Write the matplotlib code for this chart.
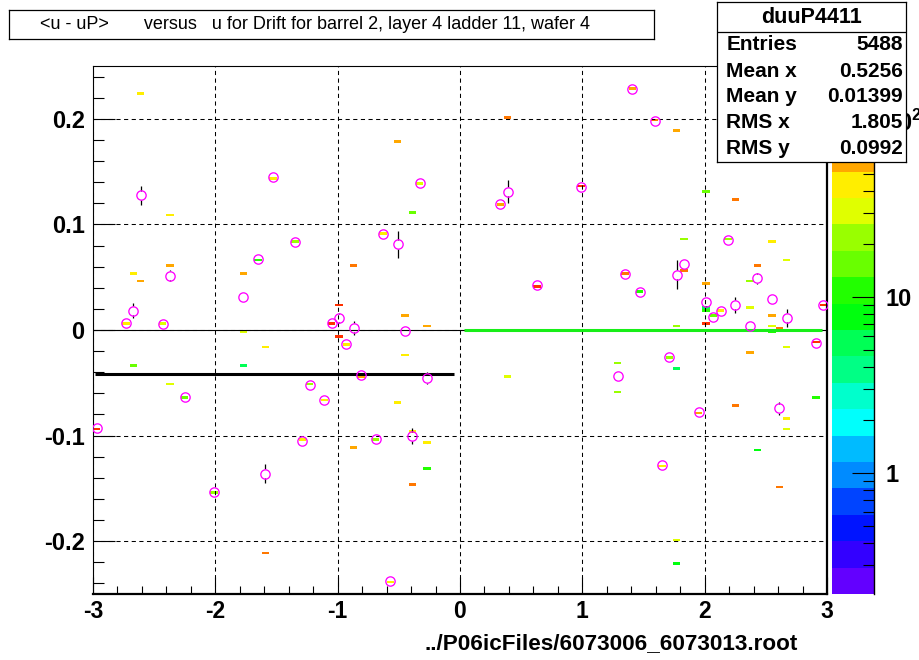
import colorsys
import numpy as np
import matplotlib
matplotlib.use("Agg")
import matplotlib.pyplot as plt
from matplotlib.colors import ListedColormap, LogNorm
from matplotlib.cm import ScalarMappable
from matplotlib.ticker import FixedLocator, MultipleLocator, LogLocator, NullFormatter, FuncFormatter

plt.rcParams['font.family'] = ['Liberation Sans', 'DejaVu Sans']
plt.rcParams['axes.unicode_minus'] = False
plt.rcParams['mathtext.fontset'] = 'custom'
plt.rcParams['mathtext.rm'] = 'Liberation Sans:bold'
plt.rcParams['mathtext.bf'] = 'Liberation Sans:bold'
plt.rcParams['lines.scale_dashes'] = False

# ---------------- data ----------------
title_text = "<u - uP>       versus   u for Drift for barrel 2, layer 4 ladder 11, wafer 4"
xlabel_text = "../P06icFiles/6073006_6073013.root"
stats_name = "duuP4411"
stats_labels = ["Entries", "Mean x", "Mean y", "RMS x", "RMS y"]
stats_values = ["5488", "0.5256", "0.01399", "1.805", "0.0992"]

x_ticks = [-3, -2, -1, 0, 1, 2, 3]
x_ticklabels = ["-3", "-2", "-1", "0", "1", "2", "3"]
y_ticks = [-0.2, -0.1, 0.0, 0.1, 0.2]
y_ticklabels = ["-0.2", "-0.1", "0", "0.1", "0.2"]
z_ticks = [1, 10, 100]
z_ticklabels = ["1", "10", "10$^{2}$"]
z_range = [0.205, 205.0]

# 2D histogram cells (bin centre x, bin centre y, content)
hist_x = [-2.97, -2.73, -2.67, -2.67, -2.61, -2.61, -2.43, -2.37, -2.37, -2.37,
          -2.25, -2.01, -1.77, -1.77, -1.77, -1.65, -1.59, -1.59, -1.53, -1.35,
          -1.29, -1.23, -1.11, -1.05, -0.99, -0.99, -0.93, -0.87, -0.87, -0.81,
          -0.69, -0.63, -0.57, -0.51, -0.51, -0.45, -0.45, -0.39, -0.39, -0.39,
          -0.33, -0.27, -0.27, -0.27,
          0.33, 0.39, 0.39, 0.63, 0.99, 1.29, 1.29, 1.35, 1.41, 1.47,
          1.59, 1.65, 1.71, 1.77, 1.77, 1.77, 1.77, 1.77, 1.83, 1.83,
          1.95, 2.01, 2.01, 2.01, 2.01, 2.01, 2.07, 2.13, 2.19, 2.25,
          2.25, 2.37, 2.37, 2.37, 2.43, 2.43, 2.55, 2.55, 2.55, 2.55,
          2.61, 2.61, 2.67, 2.67, 2.67, 2.67, 2.91, 2.91, 2.97]
hist_y = [-0.0930, 0.0067, 0.0527, -0.0349, 0.2229, 0.0464, 0.0060, 0.1086, 0.0612, -0.0502,
          -0.0638, -0.1533, 0.0543, -0.0016, -0.0349, 0.0670, -0.0171, -0.2102, 0.1448, 0.0829,
          -0.1048, -0.0520, -0.0667, 0.0067, 0.0241, -0.0063, -0.0133, 0.0603, -0.1102, -0.0425,
          -0.1029, 0.0908, -0.2378, 0.1780, -0.0692, 0.0136, -0.0226, 0.1108, -0.0959, -0.1454,
          0.1390, 0.0041, -0.1054, -0.1311,
          0.1194, 0.2022, -0.0425, 0.0422, 0.1352, -0.0321, -0.0578, 0.0527, 0.2286, 0.0362,
          0.1980, -0.1276, -0.0257, 0.1879, 0.0050, -0.0368, -0.1978, -0.2216, 0.0870, 0.0555,
          -0.0780, 0.1308, 0.0432, 0.0219, 0.0184, 0.0060, 0.0127, 0.0184, 0.0857, 0.1241,
          -0.0721, 0.0450, 0.0222, -0.0216, 0.0603, -0.1140, 0.0832, 0.0146, 0.0041, -0.0016,
          0.0022, -0.1492, 0.0654, -0.0171, -0.0832, -0.0949, -0.0121, -0.0629, 0.0238]
hist_counts = [120, 43, 43, 15, 43, 60, 30, 43, 60, 30,
               15, 21, 60, 30, 5.4, 11, 43, 85, 43, 21,
               43, 21, 43, 120, 120, 120, 43, 85, 60, 60,
               21, 43, 43, 60, 43, 60, 43, 15, 43, 85,
               30, 60, 43, 11,
               60, 85, 30, 120, 120, 21, 21, 85, 60, 11,
               85, 43, 21, 60, 21, 5.4, 30, 7.7, 21, 85,
               60, 15, 60, 5.4, 11, 120, 15, 43, 21, 85,
               85, 21, 30, 60, 85, 7.7, 43, 60, 30, 11,
               85, 85, 30, 30, 43, 30, 120, 11, 120]

# profile points
prof_x = [-2.97, -2.73, -2.67, -2.61, -2.43, -2.37, -2.25, -2.01, -1.77, -1.65,
          -1.59, -1.53, -1.35, -1.29, -1.23, -1.11, -1.05, -0.99, -0.93, -0.87,
          -0.81, -0.69, -0.63, -0.57, -0.51, -0.45, -0.39, -0.33, -0.27,
          0.33, 0.39, 0.63, 0.99, 1.29, 1.35, 1.41, 1.47, 1.59, 1.65,
          1.71, 1.77, 1.83, 1.95, 2.01, 2.07, 2.13, 2.19, 2.25, 2.37,
          2.43, 2.55, 2.61, 2.67, 2.91, 2.97]
prof_y = [-0.0930, 0.0067, 0.0184, 0.1276, 0.0060, 0.0514, -0.0638, -0.1533, 0.0314, 0.0670,
          -0.1360, 0.1448, 0.0829, -0.1048, -0.0520, -0.0667, 0.0067, 0.0114, -0.0133, 0.0022,
          -0.0425, -0.1029, 0.0908, -0.2378, 0.0810, -0.0013, -0.1006, 0.1390, -0.0457,
          0.1194, 0.1308, 0.0422, 0.1352, -0.0435, 0.0527, 0.2286, 0.0362, 0.1980, -0.1276,
          -0.0257, 0.0524, 0.0622, -0.0780, 0.0267, 0.0127, 0.0184, 0.0857, 0.0241, 0.0038,
          0.0489, 0.0298, -0.0743, 0.0117, -0.0121, 0.0238]
prof_err = [0.001, 0.001, 0.007, 0.0088, 0.001, 0.0054, 0.001, 0.001, 0.001, 0.001,
            0.0087, 0.001, 0.001, 0.001, 0.001, 0.001, 0.001, 0.005, 0.001, 0.0065,
            0.001, 0.001, 0.001, 0.001, 0.0127, 0.001, 0.0076, 0.001, 0.0058,
            0.001, 0.011, 0.001, 0.001, 0.001, 0.001, 0.001, 0.001, 0.001, 0.001,
            0.001, 0.0137, 0.001, 0.001, 0.0050, 0.001, 0.001, 0.001, 0.0076, 0.001,
            0.0055, 0.001, 0.0065, 0.0086, 0.001, 0.001]

# fitted straight lines: [x start, x end, level]
fit_left = [-2.98, -0.045, -0.0412]
fit_right = [0.03, 2.96, 0.0]

# ---------------- figure ----------------
W, H = 920, 660
fig = plt.figure(figsize=(W / 100, H / 100), dpi=100)
fig.patch.set_facecolor('white')

def fx(px):
    return px / W

def fy(py):
    return 1 - py / H

# ROOT "pretty" palette, 20 contour levels
pal = []
for k in range(20):
    ci = int((k + 0.99) * 50 / 20)
    hue = 280 - (ci + 1) * 5.6
    pal.append(colorsys.hls_to_rgb(hue / 360.0, 0.5, 1.0))
cmap = ListedColormap(pal)
norm = LogNorm(vmin=z_range[0], vmax=z_range[1])

ax = fig.add_axes([fx(93), fy(594), fx(827) - fx(93), fy(66) - fy(594)])
x_edges = np.linspace(-3, 3, 101)
y_edges = np.linspace(-0.25, 0.25, 201)
Hh, _, _ = np.histogram2d(hist_x, hist_y, bins=[x_edges, y_edges], weights=hist_counts)
Hm = np.ma.masked_where(Hh <= 0, Hh)
ax.pcolormesh(x_edges, y_edges, Hm.T, cmap=cmap, norm=norm, zorder=1)

ax.set_xlim(-3, 3)
ax.set_ylim(-0.25, 0.25)
ax.set_xticks(x_ticks)
ax.set_xticklabels(x_ticklabels)
ax.set_yticks(y_ticks)
ax.set_yticklabels(y_ticklabels)
ax.xaxis.set_minor_locator(MultipleLocator(0.2))
ax.yaxis.set_minor_locator(MultipleLocator(0.02))
ax.tick_params(which='both', direction='in', top=False, right=False, width=0.8, color='black')
ax.tick_params(axis='x', which='major', length=12, pad=4, labelsize=16.5)
ax.tick_params(axis='x', which='minor', length=6)
ax.tick_params(axis='y', which='major', length=15.5, pad=6, labelsize=17)
ax.tick_params(axis='y', which='minor', length=8)
for lab in ax.get_xticklabels() + ax.get_yticklabels():
    lab.set_fontweight('bold')
ax.grid(True, which='major', color='black', linestyle=(0, (3, 2.5)), linewidth=0.75, zorder=0.5)
ax.set_axisbelow(False)
for s in ['top', 'left']:
    ax.spines[s].set_linewidth(0.8)
for s in ['bottom', 'right']:
    ax.spines[s].set_linewidth(1.6)

# zero line and fits
ax.axhline(0, color='black', linewidth=0.8, zorder=2)
ax.plot(fit_left[:2], [fit_left[2]] * 2, color='black', linewidth=2.2, solid_capstyle='butt', zorder=3)
ax.plot(fit_right[:2], [fit_right[2]] * 2, color='#18ee18', linewidth=2.2, solid_capstyle='butt', zorder=3)

# profile: error bars outside marker, then open circles
px_ = np.array(prof_x)
py_ = np.array(prof_y)
pe_ = np.array(prof_err)
gap = 0.0042
big = pe_ > gap
ax.vlines(px_[big], py_[big] + gap, py_[big] + pe_[big], color='black', linewidth=0.9, zorder=4)
ax.vlines(px_[big], py_[big] - pe_[big], py_[big] - gap, color='black', linewidth=0.9, zorder=4)
ax.plot(px_, py_, linestyle='none', marker='o', markersize=6.7, markerfacecolor='none',
        markeredgecolor='#ff00ff', markeredgewidth=0.95, zorder=5)

# palette
cax = fig.add_axes([fx(832), fy(594), fx(874) - fx(832), fy(66) - fy(594)])
cb = fig.colorbar(ScalarMappable(norm=norm, cmap=cmap), cax=cax)
cb.outline.set_visible(False)
cax.plot([1, 1], [0, 1], transform=cax.transAxes, color='black', linewidth=1.0, clip_on=False)
cax.yaxis.set_major_locator(FixedLocator(z_ticks))
cax.yaxis.set_major_formatter(FuncFormatter(lambda v, p: dict(zip(z_ticks, z_ticklabels)).get(round(v), "")))
cax.yaxis.set_minor_locator(LogLocator(base=10, subs=np.arange(2, 10)))
cax.yaxis.set_minor_formatter(NullFormatter())
cax.tick_params(which='both', direction='in', right=True, left=False, color='black', width=0.8)
cax.tick_params(which='major', length=16, pad=8, labelsize=17)
cax.tick_params(which='minor', length=8)
for lab in cax.get_yticklabels():
    lab.set_fontweight('bold')

# title box
tax = fig.add_axes([fx(9), fy(39), fx(654) - fx(9), fy(10) - fy(39)])
tax.set_xticks([])
tax.set_yticks([])
for s in tax.spines.values():
    s.set_linewidth(0.9)
tax.text((40 - 9) / (654 - 9), 0.5, title_text,
         transform=tax.transAxes, ha='left', va='center', fontsize=13)

# stats box
sax = fig.add_axes([fx(717), fy(162), fx(906) - fx(717), fy(2) - fy(162)])
sax.set_zorder(10)
sax.set_facecolor('white')
sax.set_xticks([])
sax.set_yticks([])
sax.set_xlim(0, 1)
sax.set_ylim(0, 1)
for s in sax.spines.values():
    s.set_linewidth(0.9)
sax.text(0.5, 0.905, stats_name, ha='center', va='center', fontsize=15.5, fontweight='bold')
sax.plot([0, 1], [0.815, 0.815], color='black', linewidth=0.9)
row_y = [0.735, 0.565, 0.41, 0.25, 0.085]
for lab, val, yy in zip(stats_labels, stats_values, row_y):
    sax.text(0.05, yy, lab, ha='left', va='center', fontsize=15, fontweight='bold')
    sax.text(0.985, yy, val, ha='right', va='center', fontsize=15, fontweight='bold')

fig.text(fx(798), fy(644), xlabel_text, ha='right', va='center', fontsize=16.2, fontweight='bold')

fig.savefig('out.png', dpi=100, facecolor='white')
